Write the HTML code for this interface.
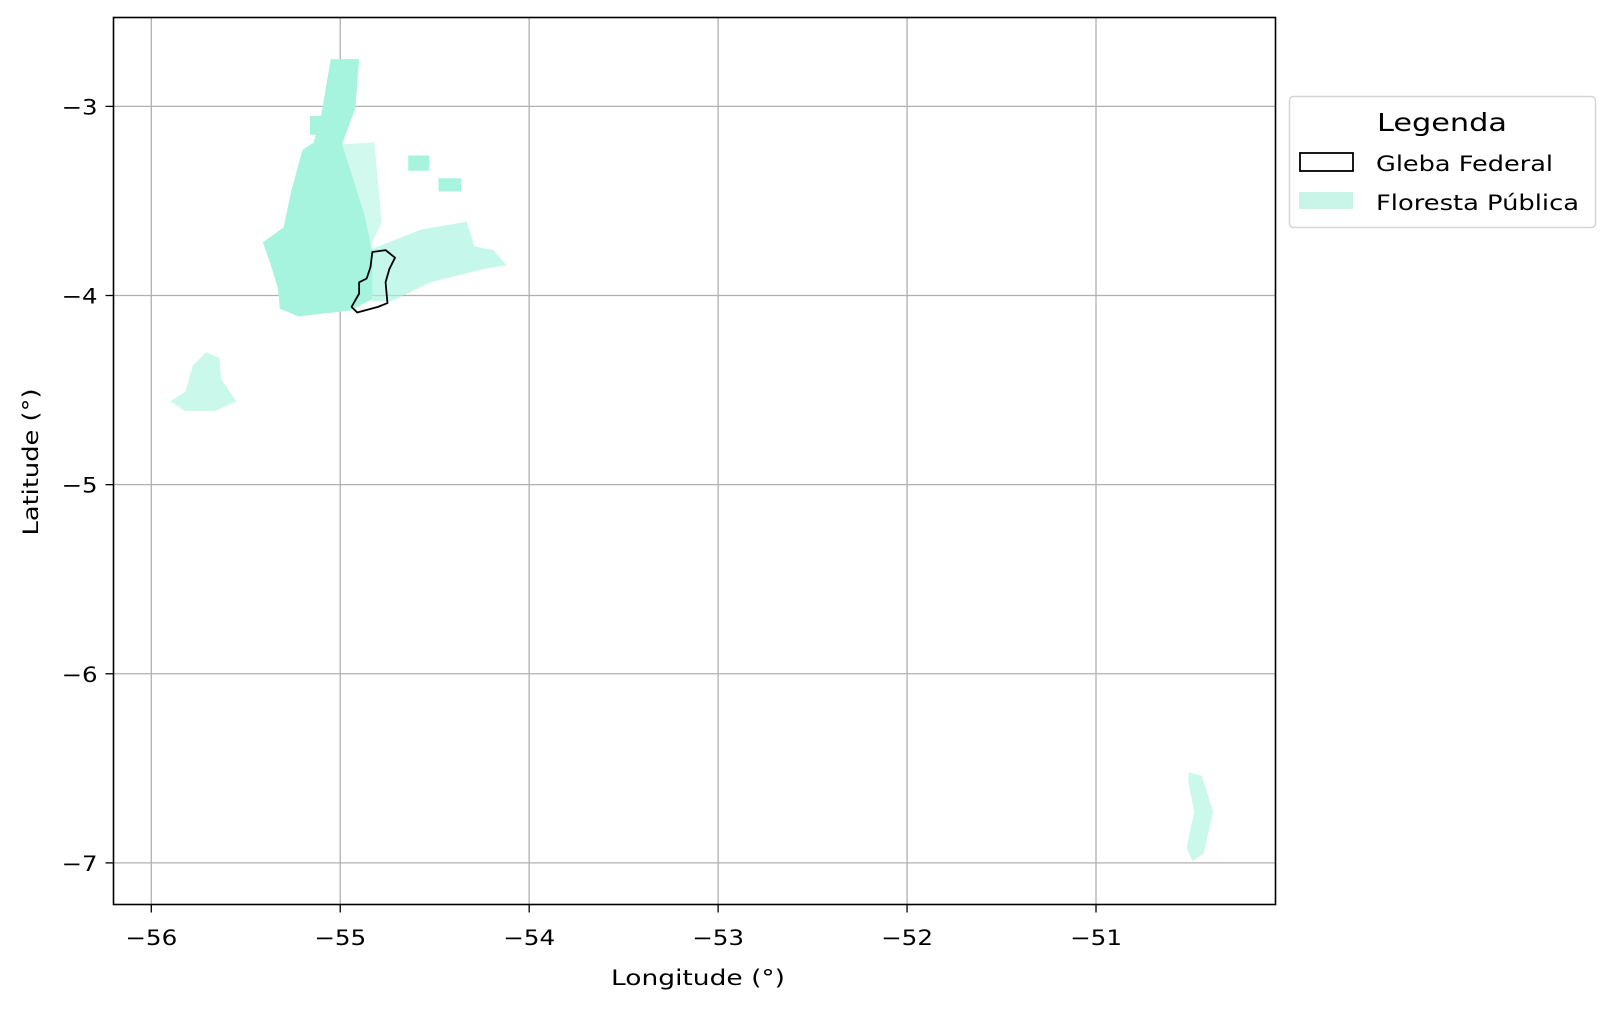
<!DOCTYPE html>
<html><head><meta charset="utf-8"><style>
body{margin:0;background:#fff;}
svg text{font-family:"DejaVu Sans","Liberation Sans",sans-serif;fill:#000;}
</style></head><body>
<svg id="chart" width="1614" height="1006" xmlns="http://www.w3.org/2000/svg">
<rect width="1614" height="1006" fill="#fff"/>
<g id="grid"></g>
<g id="shapes"></g>
<g id="axes"></g>
<text x="698" y="985" text-anchor="middle" font-size="21" textLength="174" lengthAdjust="spacingAndGlyphs">Longitude (°)</text>
<text transform="translate(38,462) rotate(-90)" text-anchor="middle" font-size="21" textLength="147" lengthAdjust="spacingAndGlyphs">Latitude (°)</text>
<g>
<rect x="1289.5" y="96.5" width="306" height="131" rx="4" fill="#fff" stroke="#d6d6d6" stroke-width="1.5"/>
<text x="1377" y="131" font-size="25" textLength="130" lengthAdjust="spacingAndGlyphs">Legenda</text>
<rect x="1300" y="153" width="53" height="18" fill="none" stroke="#000" stroke-width="1.8"/>
<text x="1376" y="171" font-size="21" textLength="177" lengthAdjust="spacingAndGlyphs">Gleba Federal</text>
<rect x="1299" y="192" width="54" height="17" fill="#c9f5e9"/>
<text x="1376" y="210" font-size="21" textLength="203" lengthAdjust="spacingAndGlyphs">Floresta Pública</text>
</g>
</svg>
<script>
const xTicks=[-56,-55,-54,-53,-52,-51];
const yTicks=[-3,-4,-5,-6,-7];
const xDomain=[-56.2,-50.05];
const yDomain=[-7.22,-2.53];
const forestMain=[[-55.05,-2.75],[-54.90,-2.75],[-54.92,-3.01],[-54.99,-3.20],[-54.92,-3.42],[-54.87,-3.58],[-54.83,-3.77],[-54.83,-4.02],[-54.95,-4.08],[-55.22,-4.11],[-55.32,-4.07],[-55.33,-3.96],[-55.38,-3.80],[-55.41,-3.72],[-55.30,-3.64],[-55.26,-3.45],[-55.20,-3.23],[-55.14,-3.19],[-55.10,-3.04]];
const forestEast=[[-54.87,-3.77],[-54.57,-3.65],[-54.33,-3.61],[-54.29,-3.74],[-54.19,-3.76],[-54.12,-3.84],[-54.24,-3.86],[-54.52,-3.93],[-54.73,-4.03],[-54.83,-4.03]];
const forestStrip=[[-54.99,-3.20],[-54.82,-3.19],[-54.78,-3.61],[-54.84,-3.74],[-54.90,-3.58]];
const forestRect1=[[-55.16,-3.05],[-55.02,-3.05],[-55.02,-3.15],[-55.16,-3.15]];
const forestRect2=[[-54.64,-3.26],[-54.53,-3.26],[-54.53,-3.34],[-54.64,-3.34]];
const forestRect3=[[-54.48,-3.38],[-54.36,-3.38],[-54.36,-3.45],[-54.48,-3.45]];
const forestSW=[[-55.90,-4.56],[-55.82,-4.51],[-55.78,-4.37],[-55.71,-4.30],[-55.64,-4.33],[-55.63,-4.44],[-55.55,-4.56],[-55.66,-4.61],[-55.82,-4.61]];
const forestSE=[[-50.51,-6.52],[-50.44,-6.54],[-50.38,-6.73],[-50.43,-6.95],[-50.49,-6.99],[-50.52,-6.92],[-50.48,-6.73],[-50.51,-6.58]];
const gleba=[[-54.83,-3.77],[-54.76,-3.76],[-54.71,-3.80],[-54.74,-3.86],[-54.76,-3.93],[-54.75,-4.04],[-54.80,-4.06],[-54.91,-4.09],[-54.94,-4.06],[-54.90,-3.99],[-54.90,-3.93],[-54.86,-3.91],[-54.84,-3.85]];

const L=113.5,R=1275.5,T=17.5,B=904.5;
const NS='http://www.w3.org/2000/svg';
function sx(v){return L+(v-xDomain[0])/(xDomain[1]-xDomain[0])*(R-L);}
function sy(v){return T+(yDomain[1]-v)/(yDomain[1]-yDomain[0])*(B-T);}
function mk(tag,attrs,parent){const e=document.createElementNS(NS,tag);for(const k in attrs)e.setAttribute(k,attrs[k]);parent.appendChild(e);return e;}
const grid=document.getElementById('grid'),axes=document.getElementById('axes'),shapes=document.getElementById('shapes');
xTicks.forEach(v=>{
 const x=sx(v);
 const g=mk('line',{x1:x,x2:x,y1:T,y2:B,stroke:'#b0b0b0','stroke-width':1.3},grid);
 
 
 const t=mk('line',{x1:x,x2:x,y1:B,y2:B+8,stroke:'#000','stroke-width':1.3},axes);
 
 
 const lb=mk('text',{x:x,y:945,'text-anchor':'middle','font-size':21,textLength:52,lengthAdjust:'spacingAndGlyphs'},axes);
 lb.textContent='\u2212'+Math.abs(v);
 
 
});
yTicks.forEach(v=>{
 const y=sy(v);
 const g=mk('line',{x1:L,x2:R,y1:y,y2:y,stroke:'#b0b0b0','stroke-width':1.3},grid);
 
 
 const t=mk('line',{x1:L-8,x2:L,y1:y,y2:y,stroke:'#000','stroke-width':1.3},axes);
 
 
 const lb=mk('text',{x:L-16,y:y+8,'text-anchor':'end','font-size':21,textLength:36,lengthAdjust:'spacingAndGlyphs'},axes);
 lb.textContent='\u2212'+Math.abs(v);
 
 
});
const frame=mk('rect',{x:L,y:T,width:R-L,height:B-T,fill:'none',stroke:'#000','stroke-width':1.6},axes);


function poly(pts,fill,op,stroke,name){
 const p=mk('polygon',{points:pts.map(q=>sx(q[0])+','+sy(q[1])).join(' '),fill:fill,'fill-opacity':op,stroke:stroke||'none','stroke-width':1.8,'stroke-linejoin':'round'},shapes);
 
 
}
const FC='#a6f4de';
poly(forestMain,FC,1,null,'forest-main');
poly(forestEast,FC,0.65,null,'forest-east');
poly(forestStrip,FC,0.5,null,'forest-strip');
poly(forestRect1,FC,1,null,'forest-patch-1');
poly(forestRect2,FC,1,null,'forest-patch-2');
poly(forestRect3,FC,1,null,'forest-patch-3');
poly(forestSW,FC,0.6,null,'forest-southwest');
poly(forestSE,FC,0.6,null,'forest-southeast');
poly(gleba,'none',1,'#000','gleba-federal');
</script>
</body></html>
